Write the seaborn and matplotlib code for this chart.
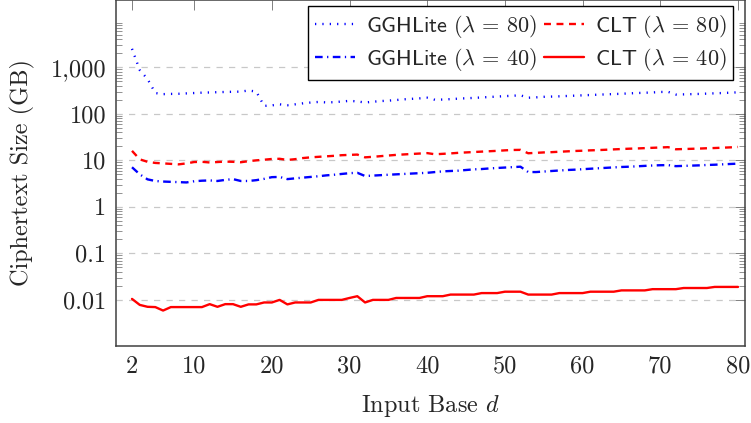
import numpy as np
import pandas as pd
import matplotlib
matplotlib.use("Agg")
import matplotlib.pyplot as plt
import seaborn as sns
from matplotlib.ticker import FixedLocator, FixedFormatter, NullFormatter

# data (d = 2 .. 80)
d_values = list(range(2, 81))

ggh_80 = [2500, 870, 560, 280, 265, 268, 270, 275, 280, 285,
          288, 292, 295, 298, 300, 318, 300, 148, 152, 160,
          153, 160, 168, 175, 180, 176, 178, 184, 190, 185,
          175, 182, 188, 192, 198, 205, 210, 215, 222, 200,
          203, 207, 212, 216, 220, 225, 230, 235, 240, 245,
          250, 222, 226, 232, 235, 238, 242, 246, 250, 254,
          258, 262, 266, 270, 275, 280, 284, 288, 295, 297,
          260, 262, 265, 268, 272, 276, 280, 285, 290]

clt_80 = [16, 10.5, 9.3, 8.8, 8.6, 8.4, 8.2, 8.6, 9.2, 9.3,
          9.0, 9.2, 9.4, 9.3, 9.1, 9.6, 10.0, 10.3, 10.7, 10.8,
          10.2, 10.6, 11.2, 11.6, 11.9, 12.2, 12.5, 12.9, 13.1, 13.3,
          11.6, 11.9, 12.3, 12.7, 13.1, 13.4, 13.7, 14.0, 14.3, 13.5,
          13.8, 14.1, 14.5, 14.8, 15.1, 15.4, 15.7, 16.0, 16.4, 16.7,
          16.8, 14.2, 14.5, 14.8, 15.0, 15.3, 15.6, 15.9, 16.1, 16.4,
          16.6, 16.9, 17.2, 17.5, 17.8, 18.0, 18.3, 18.6, 18.9, 19.2,
          17.3, 17.5, 17.7, 17.9, 18.2, 18.4, 18.7, 19.0, 19.4]

ggh_40 = [7.1, 5.0, 3.9, 3.6, 3.5, 3.45, 3.4, 3.35, 3.55, 3.65,
          3.7, 3.6, 3.8, 3.95, 3.6, 3.6, 3.75, 4.0, 4.35, 4.4,
          3.95, 4.1, 4.25, 4.4, 4.55, 4.75, 4.9, 5.1, 5.3, 5.4,
          4.6, 4.7, 4.8, 4.9, 5.0, 5.1, 5.2, 5.3, 5.4, 5.6,
          5.8, 5.9, 6.0, 6.2, 6.4, 6.5, 6.7, 6.85, 7.0, 7.15,
          7.3, 5.6, 5.6, 5.75, 5.9, 6.05, 6.2, 6.3, 6.45, 6.6,
          6.75, 6.9, 7.05, 7.2, 7.3, 7.45, 7.6, 7.75, 7.85, 7.9,
          7.5, 7.6, 7.7, 7.8, 7.95, 8.05, 8.2, 8.35, 8.5]

clt_40 = [0.0105, 0.0078, 0.0071, 0.0070, 0.0059, 0.0070, 0.0070, 0.0070, 0.0070, 0.0070,
          0.0081, 0.0071, 0.0081, 0.0081, 0.0071, 0.0080, 0.0080, 0.0088, 0.0088, 0.0100,
          0.0080, 0.0088, 0.0088, 0.0088, 0.0100, 0.0100, 0.0100, 0.0100, 0.0110, 0.0120,
          0.0088, 0.0100, 0.0100, 0.0100, 0.0110, 0.0110, 0.0110, 0.0110, 0.0120, 0.0120,
          0.0120, 0.0130, 0.0130, 0.0130, 0.0130, 0.0140, 0.0140, 0.0140, 0.0150, 0.0150,
          0.0150, 0.0130, 0.0130, 0.0130, 0.0130, 0.0140, 0.0140, 0.0140, 0.0140, 0.0150,
          0.0150, 0.0150, 0.0150, 0.0160, 0.0160, 0.0160, 0.0160, 0.0170, 0.0170, 0.0170,
          0.0170, 0.0180, 0.0180, 0.0180, 0.0180, 0.0190, 0.0190, 0.0190, 0.0190]

x_ticks = [2, 10, 20, 30, 40, 50, 60, 70, 80]
y_ticks = [0.01, 0.1, 1, 10, 100, 1000]
y_tick_labels = ["0.01", "0.1", "1", "10", "100", "1,000"]

labels = [r"$\mathsf{GGHLite}\ (\lambda\,=\,80)$", r"$\mathsf{GGHLite}\ (\lambda\,=\,40)$",
          r"$\mathsf{CLT}\ (\lambda\,=\,80)$", r"$\mathsf{CLT}\ (\lambda\,=\,40)$"]

# -----------------------------
# style
# -----------------------------
sns.set_style("white")
plt.rcParams["font.family"] = ["serif"]
plt.rcParams["font.serif"] = ["cmr10", "DejaVu Serif"]
plt.rcParams["mathtext.fontset"] = "cm"
plt.rcParams["axes.unicode_minus"] = False
plt.rcParams["lines.scale_dashes"] = False

df = pd.DataFrame({"d": d_values, "g80": ggh_80, "g40": ggh_40,
                   "c80": clt_80, "c40": clt_40})

fig = plt.figure(figsize=(7.51, 4.23), dpi=100)
ax = fig.add_axes([116 / 751, 77 / 423, 629 / 751, 346 / 423])

styles = [("g80", "#0000ff", (0, (0.9, 4.4))),
          ("g40", "#0000ff", (0, (5.5, 3.2, 0.9, 3.2))),
          ("c80", "#ff0000", (0, (5.0, 4.0))),
          ("c40", "#ff0000", "-")]

for (col, color, ls), label in zip(styles, labels):
    sns.lineplot(data=df, x="d", y=col, ax=ax, color=color, linestyle=ls,
                 linewidth=1.7, label=label)

ax.set_yscale("log")
ax.set_xlim(-0.06, 80.9)
ax.set_ylim(1.02e-3, 2.8e4)

ax.set_xticks(x_ticks)
ax.set_xticklabels([str(t) for t in x_ticks])
ax.yaxis.set_major_locator(FixedLocator(y_ticks))
ax.yaxis.set_major_formatter(FixedFormatter(y_tick_labels))
minor = [m * 10.0 ** e for e in range(-2, 4) for m in range(2, 10)]
ax.yaxis.set_minor_locator(FixedLocator(minor))
ax.yaxis.set_minor_formatter(NullFormatter())

ax.tick_params(axis="both", which="major", direction="in", length=7, width=0.7,
               color="#808080", labelsize=17.5, top=True, right=True, pad=7)
ax.tick_params(axis="y", which="minor", direction="in", length=4.5, width=0.6,
               color="#808080", right=True, left=True)
ax.tick_params(axis="x", which="minor", bottom=False, top=False)

ax.grid(False)
ax.yaxis.grid(True, which="major", color="#c8c8c8", linestyle=(0, (4.5, 4.5)), linewidth=0.9)
ax.set_axisbelow(True)

for sp in ax.spines.values():
    sp.set_color("#404040")
    sp.set_linewidth(1.1)

ax.set_xlabel(r"Input Base $d$", fontsize=17.5)
ax.set_ylabel("Ciphertext Size (GB)", fontsize=17.5)
ax.xaxis.set_label_coords(0.5, -0.135)
ax.yaxis.set_label_coords(-0.128, 0.5)

handles, lbls = ax.get_legend_handles_labels()
leg = ax.legend(handles, lbls, ncol=2, loc="upper right", bbox_to_anchor=(0.981, 0.983),
                borderaxespad=0, fontsize=16, frameon=True, fancybox=False,
                edgecolor="black", framealpha=1, handlelength=1.8, handletextpad=0.5,
                columnspacing=0.3, labelspacing=0.3, borderpad=0.3)
leg.get_frame().set_linewidth(1.0)

plt.savefig("out.png", dpi=100)
